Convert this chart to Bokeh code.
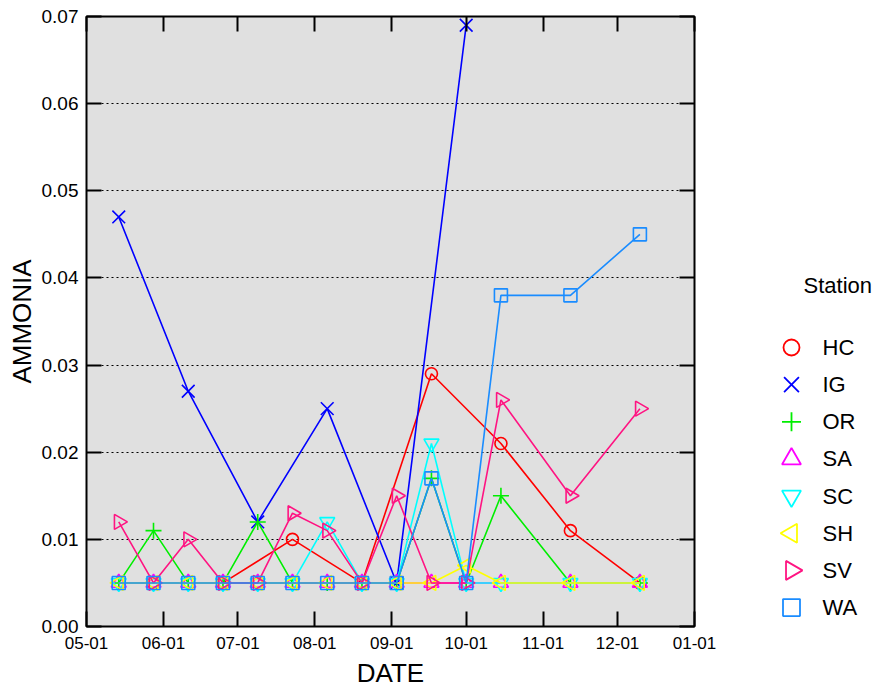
from datetime import datetime
import numpy as np
from bokeh.plotting import figure
from bokeh.layouts import row
from bokeh.models import (LinearAxis, FixedTicker, DatetimeTickFormatter, NumeralTickFormatter,
                          Range1d, CustomJSTickFormatter)
from bokeh.core.properties import value
from bokeh.embed import file_html
from bokeh.resources import INLINE

YEAR = 2009

# ---------------- data ----------------
x_tick_labels = ["05-01", "06-01", "07-01", "08-01", "09-01", "10-01", "11-01", "12-01", "01-01"]
y_ticks = [0.00, 0.01, 0.02, 0.03, 0.04, 0.05, 0.06, 0.07]

dates_all = ["05-14", "05-28", "06-11", "06-25", "07-09", "07-23", "08-06",
             "08-20", "09-03", "09-17", "10-01", "10-15", "11-12", "12-10"]

hc_dates = ["05-28", "06-25", "07-23", "08-20", "09-17", "10-15", "11-12", "12-10"]
hc_vals = [0.005, 0.005, 0.010, 0.005, 0.029, 0.021, 0.011, 0.005]

ig_dates = ["05-14", "06-11", "07-09", "08-06", "09-03", "10-01"]
ig_vals = [0.047, 0.027, 0.012, 0.025, 0.005, 0.069]

or_dates = dates_all
or_vals = [0.005, 0.011, 0.005, 0.005, 0.012, 0.005, 0.005, 0.005, 0.005, 0.017, 0.005, 0.015, 0.005, 0.005]

sa_dates = dates_all
sa_vals = [0.005, 0.005, 0.005, 0.005, 0.005, 0.005, 0.005, 0.005, 0.005, 0.005, 0.005, 0.005, 0.005, 0.005]

sc_dates = dates_all
sc_vals = [0.005, 0.005, 0.005, 0.005, 0.005, 0.005, 0.012, 0.005, 0.005, 0.021, 0.005, 0.005, 0.005, 0.005]

sh_dates = dates_all
sh_vals = [0.005, 0.005, 0.005, 0.005, 0.005, 0.005, 0.005, 0.005, 0.005, 0.005, 0.007, 0.005, 0.005, 0.005]

sv_dates = dates_all
sv_vals = [0.012, 0.005, 0.010, 0.005, 0.005, 0.013, 0.011, 0.005, 0.015, 0.005, 0.005, 0.026, 0.015, 0.025]

wa_dates = dates_all
wa_vals = [0.005, 0.005, 0.005, 0.005, 0.005, 0.005, 0.005, 0.005, 0.005, 0.017, 0.005, 0.038, 0.038, 0.045]

stations = ["HC", "IG", "OR", "SA", "SC", "SH", "SV", "WA"]
legend_title = "Station"


def to_dt(s, year=YEAR):
    m, d = s.split("-")
    return datetime(year, int(m), int(d))


def tick_dt(s):
    m, d = s.split("-")
    y = YEAR + 1 if int(m) < 5 else YEAR
    return datetime(y, int(m), int(d))


def ms(dt):
    return (dt - datetime(1970, 1, 1)).total_seconds() * 1000.0


series = {
    "HC": (hc_dates, hc_vals),
    "IG": (ig_dates, ig_vals),
    "OR": (or_dates, or_vals),
    "SA": (sa_dates, sa_vals),
    "SC": (sc_dates, sc_vals),
    "SH": (sh_dates, sh_vals),
    "SV": (sv_dates, sv_vals),
    "WA": (wa_dates, wa_vals),
}

# style: colour, marker, plot size, legend size, rotation
styles = {
    "HC": dict(color="#ff0000", marker="circle", size=12, lsize=16, angle=0.0),
    "IG": dict(color="#0000ff", marker="x", size=18, lsize=21, angle=0.0),
    "OR": dict(color="#00ee00", marker="cross", size=16, lsize=19, angle=0.0),
    "SA": dict(color="#ff00ff", marker="triangle", size=15, lsize=19, angle=0.0),
    "SC": dict(color="#00ffff", marker="inverted_triangle", size=15, lsize=19, angle=0.0),
    "SH": dict(color="#ffff00", marker="triangle", size=15, lsize=19, angle=np.pi / 2),
    "SV": dict(color="#ff1482", marker="triangle", size=15, lsize=19, angle=-np.pi / 2),
    "WA": dict(color="#1a8cff", marker="square", size=13, lsize=17, angle=0.0),
}

FONT = "Liberation Sans"
W_MAIN, W_LEG, H = 720, 158, 690
FRAME_TOP, FRAME_BOTTOM = 16, 626

x_start = tick_dt(x_tick_labels[0])
x_end = tick_dt(x_tick_labels[-1])

p = figure(width=W_MAIN, height=H, x_axis_type="datetime",
           x_range=Range1d(x_start, x_end), y_range=Range1d(0, 0.07),
           output_backend="svg", toolbar_location=None,
           min_border_left=86, min_border_right=W_MAIN - 694,
           min_border_top=FRAME_TOP, min_border_bottom=H - FRAME_BOTTOM,
           background_fill_color="#e0e0e0", border_fill_color="white")
p.outline_line_color = "black"
p.outline_line_width = 2

# grid
p.xgrid.visible = False
p.ygrid.ticker = FixedTicker(ticks=y_ticks[1:-1])
p.ygrid.grid_line_color = "black"
p.ygrid.grid_line_dash = "2 3"
p.ygrid.grid_line_width = 1

x_tick_vals = [ms(tick_dt(s)) for s in x_tick_labels]
fmt = "%m-%d"
xfmt = DatetimeTickFormatter(microseconds=fmt, milliseconds=fmt, seconds=fmt, minsec=fmt,
                             minutes=fmt, hourmin=fmt, hours=fmt, days=fmt, months=fmt, years=fmt)

p.xaxis.ticker = FixedTicker(ticks=x_tick_vals)
p.xaxis.formatter = xfmt
p.yaxis.ticker = FixedTicker(ticks=y_ticks)
p.yaxis.formatter = NumeralTickFormatter(format="0.00")

for ax in (p.xaxis[0], p.yaxis[0]):
    ax.axis_line_color = None
    ax.major_tick_in = 15
    ax.major_tick_out = 0
    ax.major_tick_line_width = 2
    ax.major_tick_line_color = "black"
    ax.minor_tick_line_color = None
    ax.major_label_text_font = FONT
    ax.major_label_text_color = "black"
    ax.axis_label_text_font = FONT
    ax.axis_label_text_font_style = "normal"
    ax.axis_label_text_color = "black"

p.xaxis.axis_label = "DATE"
p.xaxis.axis_label_text_font_size = "26px"
p.xaxis.major_label_text_font_size = "17px"
p.xaxis.major_label_standoff = 10
p.xaxis.axis_label_standoff = 6

p.yaxis.axis_label = "AMMONIA"
p.yaxis.axis_label_text_font_size = "26px"
p.yaxis.major_label_text_font_size = "19px"
p.yaxis.major_label_standoff = 8
p.yaxis.axis_label_standoff = 2

# mirror axes with inward ticks and no labels
right_ax = LinearAxis(ticker=FixedTicker(ticks=y_ticks), formatter=CustomJSTickFormatter(code="return ''"))
top_ax = LinearAxis(ticker=FixedTicker(ticks=x_tick_vals), formatter=CustomJSTickFormatter(code="return ''"))
for ax in (right_ax, top_ax):
    ax.axis_line_color = None
    ax.major_tick_in = 15
    ax.major_tick_out = 0
    ax.major_tick_line_width = 2
    ax.major_tick_line_color = "black"
    ax.minor_tick_line_color = None
    ax.major_label_text_font_size = "0px"
    ax.major_label_standoff = 0
p.add_layout(right_ax, "right")
p.add_layout(top_ax, "above")

# series
for st in stations:
    dts, vals = series[st]
    xs = [to_dt(s) for s in dts]
    s = styles[st]
    p.line(xs, vals, line_color=s["color"], line_width=1.6)
    p.scatter(xs, vals, marker=s["marker"], size=s["size"], angle=s["angle"],
              line_color=s["color"], fill_color=None, line_width=1.6)

# ---------------- legend panel (separate figure, page pixel space) ----------------
leg = figure(width=W_LEG, height=H, x_range=Range1d(W_MAIN, W_MAIN + W_LEG),
             y_range=Range1d(FRAME_BOTTOM, FRAME_TOP),
             output_backend="svg", toolbar_location=None,
             min_border_left=0, min_border_right=0,
             min_border_top=FRAME_TOP, min_border_bottom=H - FRAME_BOTTOM,
             x_axis_location=None, y_axis_location=None,
             background_fill_color="white", border_fill_color="white")
leg.outline_line_color = None
leg.xgrid.visible = False
leg.ygrid.visible = False

LEG_MARK_X, LEG_TEXT_X, LEG_TITLE_X = 791, 822, 803
LEG_TITLE_Y, LEG_ROW0_Y, LEG_ROW_DY = 285, 347, 37.15

row_y = [LEG_ROW0_Y + i * LEG_ROW_DY for i in range(len(stations))]
for st, yy in zip(stations, row_y):
    s = styles[st]
    leg.scatter([LEG_MARK_X], [yy], marker=s["marker"], size=s["lsize"], angle=s["angle"],
                line_color=s["color"], fill_color=None, line_width=1.8)
leg.text(x=[LEG_TEXT_X] * len(stations), y=row_y, text=stations,
         text_font=value(FONT), text_font_size=value("22px"), text_color="black",
         text_align="left", text_baseline="middle")
leg.text(x=[LEG_TITLE_X], y=[LEG_TITLE_Y], text=[legend_title],
         text_font=value(FONT), text_font_size=value("22px"), text_color="black",
         text_align="left", text_baseline="middle")

layout = row(p, leg, spacing=0)
open("out.html", "w").write(file_html(layout, INLINE))
